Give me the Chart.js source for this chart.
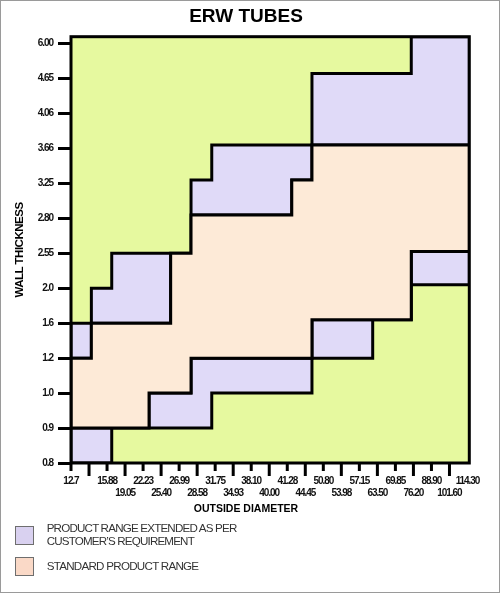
<!DOCTYPE html>
<html>
<head>
<meta charset="utf-8">
<title>ERW TUBES</title>
<script src="https://cdn.jsdelivr.net/npm/chart.js@4.4.1/dist/chart.umd.min.js"></script>
<style>
  html, body { margin:0; padding:0; background:#fff; }
  #wrap { position:relative; width:500px; height:593px; overflow:hidden; background:#fff; }
  #c { position:absolute; left:0; top:0; }
  .t { position:absolute; white-space:nowrap; }
  #frame { position:absolute; left:0; top:0; width:498px; height:591px; border:1px solid #9a9a9a; pointer-events:none; }
  #title { left:0; width:492px; top:5.8px; text-align:center; font:bold 19px/19px "Liberation Sans", Arial, sans-serif; color:#000; }
  #xtitle { left:0; width:492px; top:503.4px; text-align:center; font:bold 10.5px/11px "Liberation Sans", Arial, sans-serif; color:#000; }
  #ytitle { left:18.5px; top:249.5px; transform:translate(-50%,-50%) rotate(-90deg); font:bold 11.5px/12px "Liberation Sans", Arial, sans-serif; color:#000; }
  .sw { position:absolute; left:15px; width:19px; height:19px; box-sizing:border-box; border:1px solid #6e6e6e; }
  .lg { left:46.7px; font:11.6px/12.7px "Liberation Sans", Arial, sans-serif; color:#333; }
</style>
</head>
<body>
<div id="wrap">
  <canvas id="c" width="500" height="593"></canvas>
  <div class="t" id="title">ERW TUBES</div>
  <div class="t" id="xtitle">OUTSIDE DIAMETER</div>
  <div class="t" id="ytitle" data-w="95.6">WALL THICKNESS</div>
  <div class="sw" style="top:526px;background:#d9d1f0;"></div>
  <div class="t lg" style="top:521.9px;" data-w="190.6">PRODUCT RANGE EXTENDED AS PER</div>
  <div class="t lg" style="top:534.6px;" data-w="147.7">CUSTOMER’S REQUIREMENT</div>
  <div class="sw" style="top:557px;background:#fad9c7;"></div>
  <div class="t lg" style="top:559.6px;" data-w="152.7">STANDARD PRODUCT RANGE</div>
  <div id="frame"></div>
</div>
<script>
// Tick labels (outside diameter, wall thickness) - evenly spaced categories
const xTickLabels = ['12.7', '', '15.88', '19.05', '22.23', '25.40', '26.99', '28.58', '31.75', '34.93',
  '38.10', '40.00', '41.28', '44.45', '50.80', '53.98', '57.15', '63.50', '69.85', '76.20',
  '88.90', '101.60', '114.30'];
const yTickLabels = ['0.8', '0.9', '1.0', '1.2', '1.6', '2.0', '2.55', '2.80', '3.25', '3.66', '4.06', '4.65', '6.00'];

// Step boundaries, in axis index units.
// *X = break positions along outside diameter, *Y = wall-thickness level between breaks
const extTopX = [0, 1.13, 2.26, 6.66, 7.81, 13.37, 18.88, 22.1];
const extTopY = [4, 5, 6, 8.1, 9.1, 11.15, 12.2];
const stdTopX = [0, 1.13, 5.53, 6.66, 12.25, 13.37, 22.1];
const stdTopY = [3, 4, 6, 7.1, 8.1, 9.1];
const stdBotX = [0, 4.33, 6.66, 13.37, 18.88, 22.1];
const stdBotY = [1, 2, 3, 4.1, 6.05];
const extBotX = [0, 2.26, 7.81, 13.37, 16.74, 18.88, 22.1];
const extBotY = [0, 1, 2, 3, 4.1, 5.1];

const GREEN = '#e6f99f';
const LAVENDER = '#e0daf8';
const PEACH = '#fdead7';
const TICK_FONT = { family: '"Liberation Sans", Arial, sans-serif', size: 10, weight: 'bold', lineHeight: 1.17 };

// squeeze HTML labels horizontally to the width they have in the picture
document.querySelectorAll('[data-w]').forEach(el => {
  el.style.letterSpacing = '0px';
  const w = el.offsetWidth;
  const n = el.textContent.length;
  el.style.letterSpacing = ((parseFloat(el.dataset.w) - w) / (n - 1)).toFixed(3) + 'px';
});

function steps(xs, ys) {
  const pts = [];
  for (let k = 0; k < ys.length; k++) {
    pts.push({ x: xs[k], y: ys[k] });
    pts.push({ x: xs[k + 1], y: ys[k] });
  }
  return pts;
}
function band(ux, uy, lx, ly) {
  const top = steps(ux, uy);
  const bot = steps(lx, ly).reverse();
  const pts = top.concat(bot);
  pts.push(top[0]);
  return pts;
}
function region(label, data, color) {
  return {
    label, data, backgroundColor: color, borderColor: '#000', borderWidth: 3,
    fill: 'shape', pointRadius: 0, pointHoverRadius: 0, tension: 0,
    borderJoinStyle: 'miter', borderCapStyle: 'butt'
  };
}

const plotDecor = {
  id: 'plotDecor',
  beforeDraw(chart) {
    chart.ctx.letterSpacing = '-1.05px';
  },
  beforeDatasetsDraw(chart) {
    const { ctx, chartArea: a } = chart;
    ctx.save();
    ctx.fillStyle = GREEN;
    ctx.fillRect(a.left, a.top, a.right - a.left, a.bottom - a.top);
    ctx.restore();
  },
  afterDatasetsDraw(chart) {
    const { ctx, chartArea: a } = chart;
    const x = chart.scales.x;
    ctx.save();
    ctx.strokeStyle = '#000';
    ctx.lineWidth = 3;
    ctx.beginPath();
    for (let i = 0; i < xTickLabels.length - 1; i++) {
      const px = x.getPixelForValue(i);
      const len = i % 2 ? 13 : 8;
      ctx.moveTo(px, a.bottom);
      ctx.lineTo(px, a.bottom + len);
    }
    ctx.stroke();
    ctx.lineJoin = 'miter';
    ctx.strokeRect(a.left, a.top, a.right - a.left, a.bottom - a.top);
    ctx.restore();
  }
};

new Chart(document.getElementById('c'), {
  type: 'line',
  data: {
    datasets: [
      region('STANDARD PRODUCT RANGE', band(stdTopX, stdTopY, stdBotX, stdBotY), PEACH),
      region('PRODUCT RANGE EXTENDED (upper)', band(extTopX, extTopY, stdTopX, stdTopY), LAVENDER),
      region('PRODUCT RANGE EXTENDED (lower)', band(stdBotX, stdBotY, extBotX, extBotY), LAVENDER)
    ]
  },
  options: {
    responsive: false,
    animation: false,
    events: [],
    layout: { padding: { left: 0, right: 30.7, top: 36.7, bottom: 0 } },
    plugins: { legend: { display: false }, title: { display: false }, tooltip: { enabled: false } },
    scales: {
      x: {
        type: 'linear', min: 0, max: 22.1,
        afterBuildTicks: s => { s.ticks = xTickLabels.map((_, i) => ({ value: i })); },
        afterFit: s => { s.height = 130; },
        grid: { display: false, drawTicks: false },
        border: { display: false },
        ticks: {
          autoSkip: false, maxRotation: 0, minRotation: 0, padding: 12.4, color: '#111', font: TICK_FONT,
          callback: v => { const i = Math.round(v); return i % 2 ? ['', xTickLabels[i]] : xTickLabels[i]; }
        }
      },
      y: {
        type: 'linear', min: 0, max: 12.2,
        afterBuildTicks: s => { s.ticks = yTickLabels.map((_, i) => ({ value: i })); },
        afterFit: s => { s.width = 71; },
        grid: { drawOnChartArea: false, drawTicks: true, tickLength: 13, color: '#000', lineWidth: 3 },
        border: { display: false },
        ticks: {
          padding: 5, color: '#111', font: Object.assign({}, TICK_FONT, { size: 10 }),
          callback: v => yTickLabels[Math.round(v)]
        }
      }
    }
  },
  plugins: [plotDecor]
});
</script>
</body>
</html>
